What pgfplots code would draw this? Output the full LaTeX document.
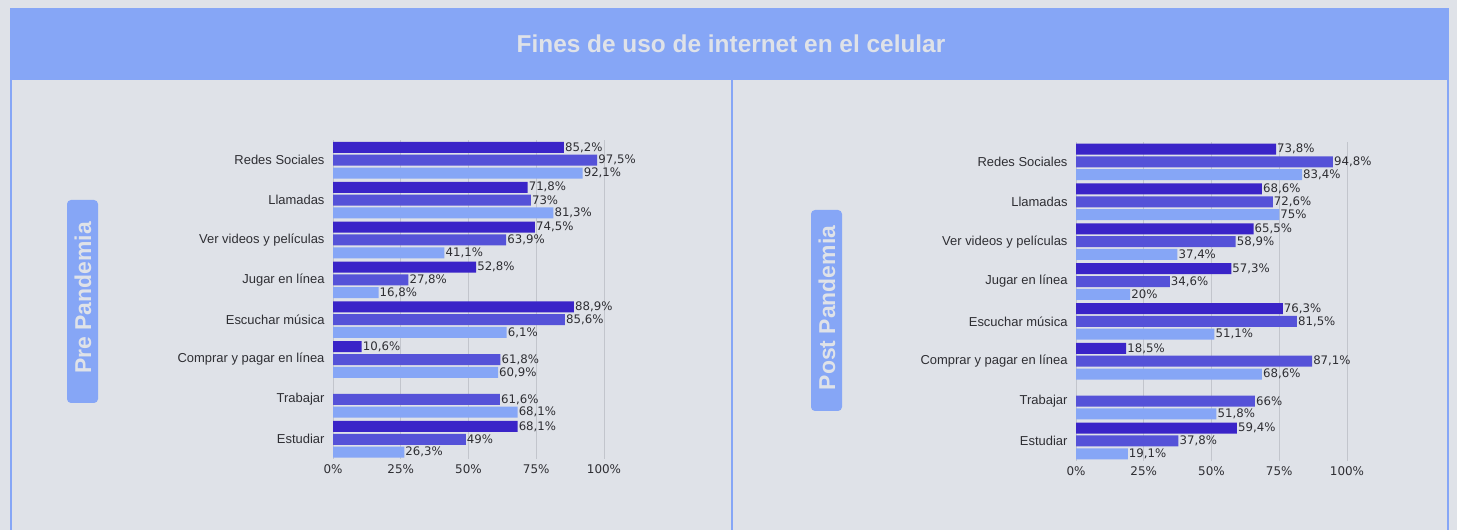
\documentclass[border=0pt]{standalone}
\usepackage{fontspec}
\setmainfont{Liberation Sans}
\newfontfamily\numfont{DejaVu Sans}
\usepackage{pgfplots}
\pgfplotsset{compat=1.18}
\definecolor{bg}{HTML}{DFE2E8}
\definecolor{hdr}{HTML}{86A6F6}
\definecolor{cA}{HTML}{3A24C8}
\definecolor{cB}{HTML}{5552D8}
\definecolor{cC}{HTML}{86A6F6}
\definecolor{grd}{HTML}{C2C5CC}
\definecolor{txt}{HTML}{2E2E33}
\pgfplotsset{fines/.style={
  scale only axis, width=271bp, height=318.9bp,
  xmin=0, xmax=100, ymin=-0.5, ymax=7.5, y dir=reverse,
  xbar=1.8bp, bar width=11bp,
  axis line style={draw=none}, major tick length=0pt,
  xtick={0,25,50,75,100}, xticklabels={0\%,25\%,50\%,75\%,100\%},
  ytick={0,...,7},
  yticklabels={Redes Sociales, Llamadas, Ver videos y películas, Jugar en línea, Escuchar música, Comprar y pagar en línea, Trabajar, Estudiar},
  xmajorgrids, grid style={grd, line width=0.8bp},
  clip=false,
  yticklabel style={font=\fontsize{13}{15}\selectfont, text=txt, xshift=-5bp},
  xticklabel style={font=\numfont\fontsize{12}{14}\selectfont, text=txt, yshift=-2bp},
  point meta=explicit symbolic,
  nodes near coords={\pgfplotspointmeta\%},
  nodes near coords style={font=\numfont\fontsize{11.8}{12}\selectfont, text=txt, anchor=west, inner sep=1bp},
}}
\begin{document}
\begin{tikzpicture}
\path[use as bounding box] (0bp,0bp) rectangle (1457bp,530bp);
\fill[bg] (0bp,0bp) rectangle (1457bp,530bp);
\fill[hdr] (10bp,450bp) rectangle (1449bp,522bp);
\draw[hdr, line width=2bp] (11bp,0bp)--(11bp,450bp) (731.5bp,0bp)--(731.5bp,450bp) (1448bp,0bp)--(1448bp,450bp);
\node[text=bg, font=\bfseries\fontsize{24.5}{27}\selectfont] at (731bp,486bp) {Fines de uso de internet en el celular};
\fill[hdr, rounded corners=4bp] (67bp,127bp) rectangle (98bp,330bp);
\node[rotate=90, text=bg, font=\bfseries\fontsize{23}{25}\selectfont] at (83bp,232bp) {Pre Pandemia};
\fill[hdr, rounded corners=4bp] (811bp,119bp) rectangle (842bp,320bp);
\node[rotate=90, text=bg, font=\bfseries\fontsize{23}{25}\selectfont] at (827bp,222bp) {Post Pandemia};

\begin{axis}[fines, at={(333bp,70.8bp)}, anchor=south west]
\addplot[fill=cC, draw=none] table[x=x, y=y, meta=l] {
x y l
92.1 0 92,1
81.3 1 81,3
41.1 2 41,1
16.8 3 16,8
64.1 4 6,1
60.9 5 60,9
68.1 6 68,1
26.3 7 26,3
};
\addplot[fill=cB, draw=none] table[x=x, y=y, meta=l] {
x y l
97.5 0 97,5
73 1 73
63.9 2 63,9
27.8 3 27,8
85.6 4 85,6
61.8 5 61,8
61.6 6 61,6
49 7 49
};
\addplot[fill=cA, draw=none] table[x=x, y=y, meta=l] {
x y l
85.2 0 85,2
71.8 1 71,8
74.5 2 74,5
52.8 3 52,8
88.9 4 88,9
10.6 5 10,6
68.1 7 68,1
};
\end{axis}

\begin{axis}[fines, at={(1076bp,69.1bp)}, anchor=south west]
\addplot[fill=cC, draw=none] table[x=x, y=y, meta=l] {
x y l
83.4 0 83,4
75 1 75
37.4 2 37,4
20 3 20
51.1 4 51,1
68.6 5 68,6
51.8 6 51,8
19.1 7 19,1
};
\addplot[fill=cB, draw=none] table[x=x, y=y, meta=l] {
x y l
94.8 0 94,8
72.6 1 72,6
58.9 2 58,9
34.6 3 34,6
81.5 4 81,5
87.1 5 87,1
66 6 66
37.8 7 37,8
};
\addplot[fill=cA, draw=none] table[x=x, y=y, meta=l] {
x y l
73.8 0 73,8
68.6 1 68,6
65.5 2 65,5
57.3 3 57,3
76.3 4 76,3
18.5 5 18,5
59.4 7 59,4
};
\end{axis}
\end{tikzpicture}
\end{document}
